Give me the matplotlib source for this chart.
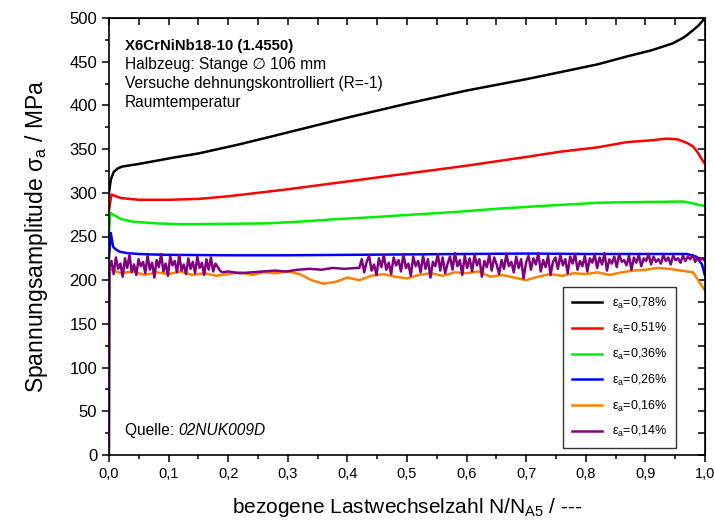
import numpy as np
import matplotlib
matplotlib.use("Agg")
import matplotlib.pyplot as plt

plt.rcParams['font.family'] = ['Liberation Sans', 'DejaVu Sans']
plt.rcParams['mathtext.default'] = 'regular'

# curves (N/NA5, stress amplitude in MPa)
x_078 = [0, 0.003, 0.008, 0.015, 0.022, 0.05, 0.106, 0.15, 0.216, 0.27, 0.329, 0.4, 0.5, 0.6,
         0.7, 0.757, 0.82, 0.869, 0.91, 0.946, 0.965, 0.98, 0.99, 0.995, 1.0]
y_078 = [300, 315, 324, 328, 330, 333, 340, 345, 355, 364, 374, 386, 402, 417,
         430, 438, 447, 456, 463, 471, 478, 486, 492, 496, 500]

x_051 = [0, 0.004, 0.02, 0.05, 0.1, 0.15, 0.2, 0.3, 0.4, 0.5, 0.6, 0.7, 0.757, 0.82,
         0.869, 0.91, 0.936, 0.955, 0.97, 0.98, 0.987, 0.995, 1.0]
y_051 = [280, 298, 294, 292, 292, 293, 296, 304, 313, 322, 331, 341, 347, 352,
         358, 360, 362, 361, 357, 353, 347, 338, 333]

x_036 = [0, 0.002, 0.02, 0.04, 0.08, 0.124, 0.2, 0.265, 0.32, 0.376, 0.44, 0.5, 0.58, 0.656,
         0.74, 0.824, 0.9, 0.963, 0.98, 0.99, 1.0]
y_036 = [255, 277, 270, 267, 265, 264, 264.5, 265, 267, 269.6, 272, 274.6, 278, 282,
         285.5, 288.7, 289.5, 290, 288, 286, 285]

x_026 = [0, 0.003, 0.007, 0.012, 0.018, 0.03, 0.05, 0.07, 0.1, 0.2, 0.3, 0.4, 0.5, 0.6,
         0.7, 0.8, 0.9, 0.97, 0.985, 0.995, 1.0]
y_026 = [225, 254, 238, 235, 232.6, 231, 230, 229.5, 229, 228.5, 228.5, 229, 229.5, 230,
         230.5, 230, 230, 230, 227, 218, 205]

y_016 = [213, 208, 210, 206, 209, 207, 210, 206, 208, 205, 207, 209, 206, 209, 208, 210, 207,
         200, 196, 198, 203, 200, 205, 207, 204, 202, 206, 208, 205, 209, 208, 210, 204, 206,
         203, 200, 204, 207, 205, 208, 207, 209, 206, 209, 211, 212, 214, 213, 211, 209, 188]
x_016 = np.linspace(0, 1, len(y_016))

# 0.14 %: noisy start, calm middle, noisy end
y_014_a = [0, 215,
           222, 207, 226, 213, 219, 204, 225, 214, 229, 209, 218, 206, 224, 216, 221, 208,
           228, 212, 220, 203, 223, 215, 230, 210, 219, 205, 227, 217, 222, 209, 229, 211,
           218, 207, 225, 213, 221, 208, 227, 214, 220, 206, 224, 212, 226, 210, 219, 215,
           211, 209]
y_014_b = [210, 208, 209, 210, 211, 210, 212, 213, 212, 214, 213, 214]
y_014_c = [214, 224, 209, 221, 228, 211, 218, 206, 225, 215, 229, 212,
           220, 207, 226, 217, 223, 210, 230, 214, 219, 205, 227, 216,
           222, 209, 228, 213, 224, 203, 221, 216, 230, 211, 226, 208,
           219, 227, 212, 231, 216, 223, 206, 228, 214, 225, 210, 229,
           217, 224, 204, 222, 215, 229, 211, 226, 218, 207, 223, 213,
           230, 216, 221, 209, 227, 214, 224, 202, 220, 228, 212, 225,
           218, 231, 210, 223, 215, 228, 206, 221, 226, 213, 229, 217,
           224, 208, 227, 219, 230, 212, 222, 216, 228, 210, 225, 220,
           229, 214, 226, 218, 231, 211, 224, 219, 227, 215, 230, 221,
           223, 217, 228, 212, 226, 220, 229, 216, 225, 222, 230, 218,
           227, 221, 224, 219, 229, 222, 226, 218, 228, 223, 225, 220,
           228, 222, 227, 224, 229, 221, 226, 223, 225, 222]
x_014 = np.concatenate([[0, 0.001], np.linspace(0.004, 0.19, len(y_014_a) - 2),
                        np.linspace(0.2, 0.415, len(y_014_b)),
                        np.linspace(0.42, 1.0, len(y_014_c))])
y_014 = y_014_a + y_014_b + y_014_c

labels = ['0,78%', '0,51%', '0,36%', '0,26%', '0,16%', '0,14%']
colors = ['#000000', '#ff0000', '#00ee00', '#0000ff', '#ff8000', '#800080']

x_ticks = np.arange(0, 1.01, 0.1)
x_ticklabels = ['0,0', '0,1', '0,2', '0,3', '0,4', '0,5', '0,6', '0,7', '0,8', '0,9', '1,0']
y_ticks = np.arange(0, 501, 50)

fig = plt.figure(figsize=(7.14, 5.28), dpi=100)
ax = fig.add_axes([109 / 714, 73 / 528, 596 / 714, 437 / 528])

series = [(x_078, y_078), (x_051, y_051), (x_036, y_036), (x_026, y_026), (x_016, y_016), (x_014, y_014)]
for (xs, ys), lab, col in zip(series, labels, colors):
    ax.plot(xs, ys, color=col, lw=1.8, label=r'ε$_a$=' + lab)

ax.set_xlim(0, 1)
ax.set_ylim(0, 500)
ax.set_xticks(x_ticks)
ax.set_xticklabels(x_ticklabels, fontsize=10.5)
ax.set_xticks(np.arange(0.05, 1, 0.1), minor=True)
ax.set_yticks(y_ticks)
ax.set_yticks(np.arange(25, 500, 50), minor=True)
ax.tick_params(axis='both', which='major', direction='out', length=5, width=1.1)
ax.tick_params(axis='y', which='major', labelsize=12)
ax.tick_params(axis='both', which='minor', direction='out', length=3, width=1.1)
for s in ax.spines.values():
    s.set_linewidth(1.2)

top = ax.secondary_xaxis('top')
top.set_xticks(np.arange(0, 1.01, 0.05))
top.tick_params(direction='in', length=5, width=1.1, labeltop=False)
right = ax.secondary_yaxis('right')
right.set_yticks(np.arange(0, 501, 25))
right.tick_params(direction='in', length=5, width=1.1, labelright=False)

ax.set_xlabel('bezogene Lastwechselzahl N/N$_{A5}$ / ---', fontsize=15, labelpad=11)
ax.set_ylabel('Spannungsamplitude σ$_a$ / MPa', fontsize=16.5, labelpad=14)

ax.text(0.027, 0.936, 'X6CrNiNb18-10 (1.4550)', transform=ax.transAxes, fontsize=10.8, fontweight='bold', va='center')
ax.text(0.027, 0.893, 'Halbzeug: Stange ∅ 106 mm', transform=ax.transAxes, fontsize=11.2, va='center')
ax.text(0.027, 0.849, 'Versuche dehnungskontrolliert (R=-1)', transform=ax.transAxes, fontsize=11.2, va='center')
ax.text(0.027, 0.806, 'Raumtemperatur', transform=ax.transAxes, fontsize=11.2, va='center')
src = ax.text(0.027, 0.055, 'Quelle: ', transform=ax.transAxes, fontsize=11.2, va='center')
ax.annotate('02NUK009D', xy=(1, 0.5), xycoords=src, va='center', ha='left',
            fontsize=11.2, fontstyle='italic')

leg = ax.legend(loc='lower right', bbox_to_anchor=(0.951, 0.016), fontsize=9, frameon=True,
                fancybox=False, edgecolor='black', handlelength=2.4, labelspacing=0.85,
                borderpad=0.7, handletextpad=0.8, borderaxespad=0)
leg.get_frame().set_linewidth(1.0)

fig.savefig('out.png', dpi=100)
